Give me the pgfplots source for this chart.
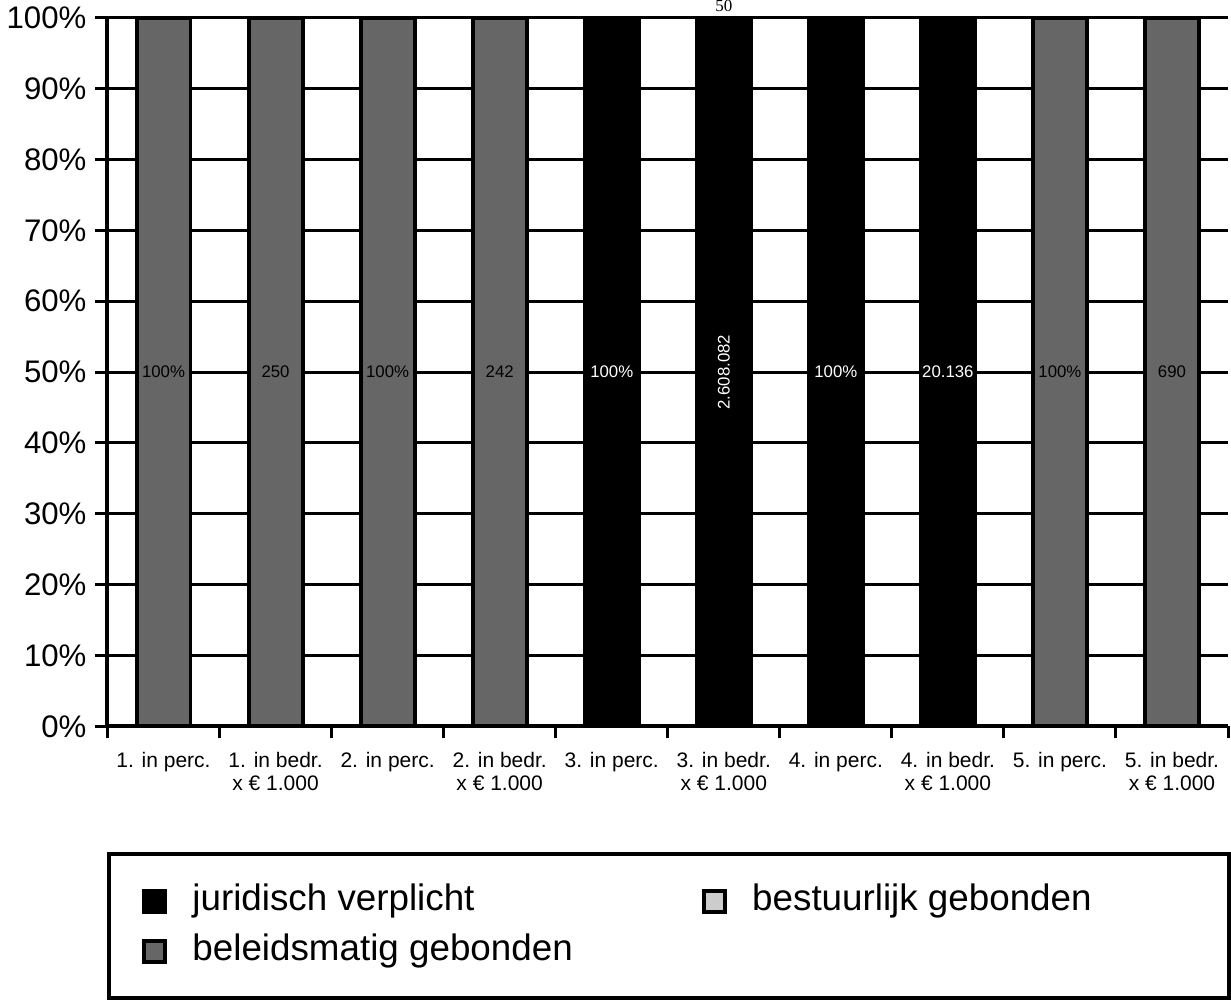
\documentclass[border=0pt]{standalone}
\usepackage{pgfplots}
\pgfplotsset{compat=1.18}
\usepackage{fontspec}
\setmainfont{Liberation Sans}
\newfontfamily\seriffont{Liberation Serif}
\definecolor{beleid}{HTML}{666666}
\definecolor{bestuur}{HTML}{CCCCCC}

\pgfplotsset{
  legsq/.style={legend image code/.code={
    \draw[##1, draw=black, line width=2pt] (1pt,-5.25pt) rectangle (11.5pt,5.25pt);}},
  barlabel/.style={forget plot, draw=none, fill=none, bar shift=0pt,
    nodes near coords, point meta=explicit symbolic,
    every node near coord/.append style={anchor=center, font=\fontsize{8.4}{9}\selectfont, #1}},
}

\begin{document}
\begin{tikzpicture}
\begin{axis}[
    width=560.5pt, height=354.5pt, scale only axis,
    xmin=-0.5, xmax=9.5, ymin=0, ymax=100,
    clip=false,
    axis x line=bottom, axis y line=left,
    axis line style={-, line width=2pt},
    ybar, bar width=27pt,
    ytick={0,10,20,30,40,50,60,70,80,90,100},
    yticklabels={0\%,10\%,20\%,30\%,40\%,50\%,60\%,70\%,80\%,90\%,100\%},
    ymajorgrids, grid style={black, line width=1.5pt},
    tick align=outside, major tick length=6pt,
    major tick style={black, line width=1.5pt},
    xtick={-0.5,0.5,1.5,2.5,3.5,4.5,5.5,6.5,7.5,8.5,9.5},
    x tick label as interval,
    xticklabels={1. in perc., {1. in bedr.\\x € 1.000}, 2. in perc., {2. in bedr.\\x € 1.000},
      3. in perc., {3. in bedr.\\x € 1.000}, 4. in perc., {4. in bedr.\\x € 1.000},
      5. in perc., {5. in bedr.\\x € 1.000}},
    xticklabel style={align=center, font=\fontsize{10.5}{11.5}\selectfont, yshift=-3.5pt},
    yticklabel style={font=\fontsize{15.6}{18}\selectfont, xshift=-1pt},
    legend columns=2,
    legend cell align=left,
    legend style={at={(0,-0.1777)}, anchor=north west, draw=black, line width=2pt,
      inner xsep=16.5pt, inner ysep=15pt, row sep=8pt,
      nodes={inner sep=0pt, text height=13pt, text depth=4pt, font=\fontsize{18.4}{20}\selectfont},
      /tikz/every odd column/.append style={column sep=12.5pt}},
]

% juridisch verplicht
\addplot[legsq, bar shift=0pt, fill=black, draw=black, line width=2pt] coordinates {
(4,100) (5,100) (6,100) (7,100)
};
\addlegendentry{\makebox[255pt][l]{juridisch verplicht}}

% bestuurlijk gebonden (geen balken)
\addlegendimage{legsq, fill=bestuur}
\addlegendentry{\makebox[222pt][l]{bestuurlijk gebonden}}

% beleidsmatig gebonden
\addplot[legsq, bar shift=0pt, fill=beleid, draw=black, line width=2pt] coordinates {
(0,100) (1,100) (2,100) (3,100) (8,100) (9,100)
};
\addlegendentry{\makebox[255pt][l]{beleidsmatig gebonden}}

% labels in de balken
\addplot[barlabel={text=black}] coordinates {
(0,50) [100\%] (1,50) [250] (2,50) [100\%] (3,50) [242] (8,50) [100\%] (9,50) [690]
};
\addplot[barlabel={text=white}] coordinates {
(4,50) [100\%] (6,50) [100\%] (7,50) [20.136]
};
\addplot[barlabel={text=white, rotate=90}] coordinates {
(5,50) [2.608.082]
};

\node[font=\seriffont\fontsize{8.5}{9}\selectfont, anchor=south, inner sep=0pt, yshift=2.8pt] at (axis cs:5,100) {50};

\end{axis}
\end{tikzpicture}
\end{document}
